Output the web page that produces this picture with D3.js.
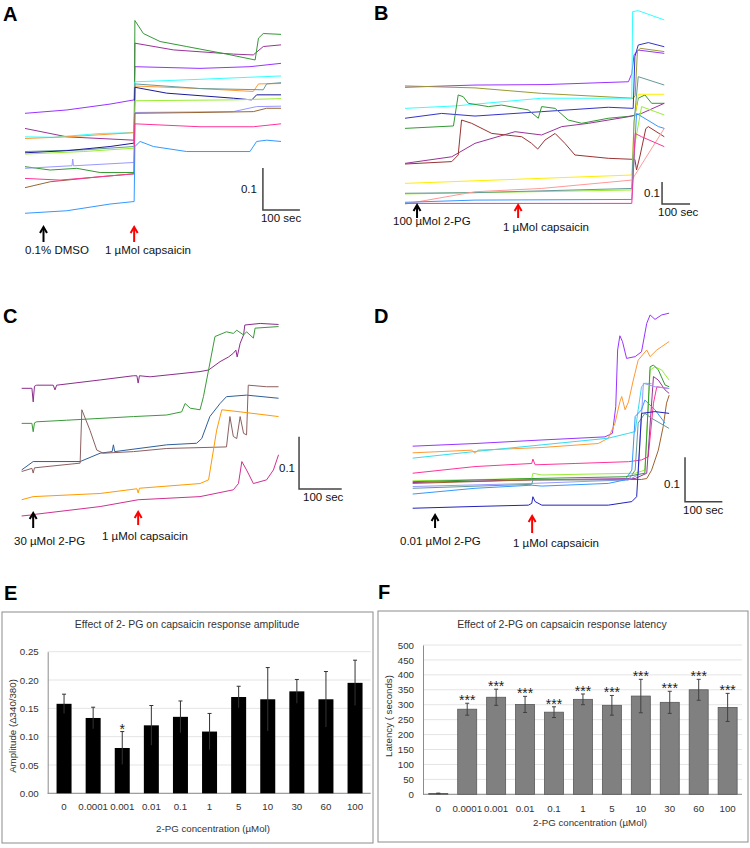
<!DOCTYPE html>
<html><head><meta charset="utf-8">
<script src="https://cdn.jsdelivr.net/npm/d3@7"></script>
<style>
body{margin:0;background:#fff}
svg{display:block}
text{font-family:"Liberation Sans",Arial,sans-serif}
</style>
</head><body>
<svg id="c" width="750" height="848"></svg>
<script>
// ---------------- DATA ----------------
// Bar charts (E, F)
const concLabels = ["0","0.0001","0.001","0.01","0.1","1","5","10","30","60","100"];
const amplitudeMean = [0.158,0.133,0.080,0.120,0.135,0.109,0.170,0.166,0.180,0.166,0.195];
const amplitudeErr  = [0.017,0.019,0.029,0.035,0.028,0.032,0.019,0.056,0.021,0.049,0.040];
const amplitudeSig  = ["","","*","","","","","","","",""];
const amplitudeTicks = [0,0.05,0.10,0.15,0.20,0.25];
const latencyMean = [3,285,325,301,275,318,298,329,308,350,291];
const latencyErr  = [1,20,27,27,18,18,33,56,37,35,47];
const latencySig  = ["","***","***","***","***","***","***","***","***","***","***"];
const latencyTicks = [0,50,100,150,200,250,300,350,400,450,500];

// Calcium traces: [time (s), ratio]
const tracesA = [
 [[0,0.254],[113,0.262],[230,0.276],[295,0.286],[297,0.365],[473,0.361],[608,0.365],[692,0.373]],
 [[0,0.218],[113,0.198],[295,0.190],[297,0.421],[401,0.405],[563,0.395],[617,0.393],[644,0.413],[692,0.417]],
 [[0,0.127],[68,0.119],[140,0.123],[203,0.113],[295,0.113],[297,0.475],[320,0.444],[365,0.425],[437,0.413],[545,0.395],[622,0.381],[631,0.433],[644,0.444],[692,0.442]],
 [[0,0.198],[77,0.197],[203,0.206],[295,0.208],[297,0.329],[473,0.335],[692,0.343]],
 [[0,0.194],[113,0.198],[295,0.208],[297,0.319],[473,0.313],[617,0.306],[631,0.324],[692,0.325]],
 [[0,0.163],[158,0.167],[295,0.175],[297,0.324],[473,0.313],[644,0.310],[653,0.324],[692,0.327]],
 [[0,0.160],[113,0.165],[230,0.175],[295,0.183],[297,0.316],[383,0.302],[563,0.290],[613,0.286],[626,0.298],[692,0.298]],
 [[0,0.157],[158,0.163],[295,0.171],[297,0.284],[563,0.286],[692,0.289]],
 [[0,0.123],[122,0.129],[127,0.129],[129,0.145],[131,0.129],[295,0.137],[297,0.256],[563,0.258],[626,0.270],[692,0.271]],
 [[0,0.077],[68,0.091],[203,0.103],[295,0.110],[297,0.254],[473,0.256],[617,0.258],[653,0.266],[692,0.266]],
 [[0,0.099],[95,0.095],[203,0.103],[295,0.110],[297,0.229],[473,0.222],[617,0.222],[692,0.229]],
 [[0,0.016],[113,0.022],[230,0.038],[295,0.044],[297,0.175],[311,0.187],[347,0.175],[437,0.163],[608,0.163],[626,0.187],[653,0.190],[692,0.187]]
];
const colorsA = ["#9933ff","#993399","#339933","#33ffff","#ff9933","#669999","#1a1a99","#99ee33","#9999ff","#996633","#ff3399","#3399ff"];
const eventsA = [50,295];
const eventLabelsA = ["0.1% DMSO","1 \u00b5Mol capsaicin"];

const tracesB = [
 [[0,0.558],[250,0.568],[500,0.570],[798,0.583],[810,0.62],[818,0.705],[833,0.727],[926,0.712]],
 [[0,0.564],[250,0.555],[488,0.530],[815,0.508],[822,0.52],[830,0.72],[840,0.735],[926,0.72]],
 [[0,0.462],[179,0.473],[488,0.508],[810,0.508],[813,0.902],[833,0.906],[926,0.864]],
 [[0,0.417],[131,0.439],[250,0.427],[488,0.447],[726,0.467],[815,0.462],[821,0.697],[833,0.75],[869,0.761],[926,0.742]],
 [[0,0.371],[173,0.382],[190,0.523],[208,0.515],[226,0.485],[298,0.470],[345,0.477],[440,0.455],[476,0.417],[488,0.470],[536,0.462],[583,0.409],[631,0.394],[726,0.417],[810,0.427],[821,0.43],[833,0.508],[857,0.523],[881,0.485],[926,0.485]],
 [[0,0.212],[167,0.242],[250,0.303],[393,0.356],[488,0.341],[560,0.379],[655,0.394],[798,0.424],[845,0.439],[926,0.485]],
 [[0,0.209],[167,0.220],[190,0.25],[202,0.409],[238,0.394],[310,0.348],[417,0.333],[452,0.303],[474,0.277],[500,0.318],[536,0.348],[571,0.303],[607,0.25],[726,0.235],[821,0.230],[827,0.182],[840,0.25],[860,0.37],[869,0.379],[926,0.333]],
 [[0,0.121],[810,0.159],[818,0.40],[833,0.526],[926,0.526]],
 [[0,0.073],[810,0.091],[821,0.3],[845,0.47],[926,0.432]],
 [[0,0.076],[250,0.079],[810,0.098],[818,0.4],[833,0.606],[926,0.568]],
 [[0,0.027],[250,0.083],[488,0.098],[810,0.136],[926,0.371]],
 [[0,0.035],[250,0.045],[810,0.048],[827,0.439],[905,0.379],[926,0.371]],
 [[0,0.030],[810,0.030],[822,0.348],[845,0.333],[926,0.288]]
];
const colorsB = ["#9933ff","#999933","#33ffff","#3333cc","#339933","#993399","#993333","#ffee00","#99ee33","#669999","#ff9999","#3399ff","#ff3399"];
const eventsB = [43,404];
const eventLabelsB = ["100 \u00b5Mol 2-PG","1 \u00b5Mol capsaicin"];

const tracesC = [
 [[0,0.258],[24,0.258],[27,0.232],[30,0.262],[35,0.264],[74,0.264],[78,0.255],[82,0.264],[184,0.274],[262,0.282],[270,0.282],[273,0.268],[276,0.282],[301,0.280],[418,0.290],[438,0.293],[465,0.309],[485,0.318],[496,0.325],[502,0.331],[505,0.318],[512,0.344],[520,0.360],[523,0.379],[559,0.382],[602,0.380]],
 [[0,0.191],[24,0.191],[27,0.175],[30,0.192],[35,0.194],[105,0.197],[262,0.204],[340,0.207],[375,0.213],[383,0.229],[395,0.220],[418,0.217],[426,0.242],[438,0.293],[453,0.357],[480,0.366],[496,0.363],[504,0.369],[520,0.360],[527,0.366],[543,0.354],[547,0.373],[602,0.376]],
 [[0,0.102],[27,0.118],[137,0.118],[184,0.134],[212,0.137],[215,0.150],[218,0.137],[340,0.150],[410,0.153],[422,0.162],[441,0.204],[465,0.229],[480,0.242],[527,0.245],[602,0.239]],
 [[0,0.099],[24,0.105],[27,0.096],[30,0.106],[137,0.115],[141,0.217],[160,0.178],[176,0.140],[191,0.134],[262,0.137],[340,0.143],[480,0.146],[488,0.204],[496,0.166],[504,0.162],[512,0.204],[520,0.172],[527,0.169],[531,0.264],[574,0.261],[602,0.261]],
 [[0,0.045],[27,0.051],[184,0.057],[270,0.066],[273,0.058],[276,0.067],[418,0.076],[438,0.083],[457,0.178],[469,0.217],[512,0.213],[602,0.204]],
 [[0,0.014],[24,0.016],[27,0.008],[30,0.017],[184,0.032],[273,0.045],[418,0.051],[496,0.064],[508,0.076],[516,0.118],[527,0.102],[543,0.076],[574,0.083],[590,0.102],[602,0.131]]
];
const colorsC = ["#8b2d8b","#3a9a3a","#2e5f99","#8c6060","#ff9a00","#d03090"];
const eventsC = [27,273];
const eventLabelsC = ["30 \u00b5Mol 2-PG","1 \u00b5Mol capsaicin"];

const tracesD = [
 [[0,0.159],[167,0.165],[346,0.173],[515,0.180],[535,0.188],[544,0.248],[549,0.376],[555,0.408],[562,0.395],[573,0.357],[596,0.361],[613,0.372],[627,0.436],[636,0.455],[649,0.445],[667,0.455],[687,0.459]],
 [[0,0.144],[158,0.150],[167,0.143],[175,0.150],[346,0.156],[497,0.165],[524,0.177],[542,0.211],[555,0.259],[560,0.271],[569,0.241],[578,0.259],[591,0.308],[604,0.353],[627,0.376],[636,0.361],[654,0.376],[687,0.395]],
 [[0,0.132],[167,0.147],[346,0.162],[524,0.177],[578,0.188],[596,0.192],[604,0.241],[613,0.293],[622,0.301],[640,0.300]],
 [[0,0.098],[167,0.113],[319,0.120],[322,0.130],[328,0.117],[435,0.120],[578,0.124],[613,0.128],[631,0.135],[645,0.256],[654,0.293],[687,0.289]],
 [[0,0.081],[319,0.086],[322,0.098],[346,0.094],[596,0.098],[622,0.105],[636,0.331],[649,0.338],[667,0.331],[687,0.308]],
 [[0,0.079],[319,0.086],[569,0.090],[622,0.098],[636,0.338],[645,0.342],[658,0.331],[676,0.297],[687,0.293]],
 [[0,0.077],[319,0.083],[596,0.086],[627,0.098],[645,0.316],[658,0.308],[676,0.286],[687,0.278]],
 [[0,0.075],[319,0.083],[613,0.084],[627,0.086],[640,0.105],[658,0.150],[671,0.203],[680,0.256],[687,0.274]],
 [[0,0.068],[319,0.075],[578,0.083],[604,0.094],[618,0.301],[649,0.293],[687,0.289]],
 [[0,0.064],[319,0.073],[322,0.083],[578,0.083],[596,0.105],[604,0.211],[622,0.233],[640,0.222],[687,0.199]],
 [[0,0.051],[167,0.064],[319,0.071],[346,0.069],[524,0.075],[569,0.083],[587,0.105],[596,0.226],[613,0.241],[622,0.263],[649,0.241],[676,0.211]],
 [[0,0.019],[167,0.023],[310,0.026],[319,0.030],[322,0.045],[328,0.034],[346,0.026],[524,0.026],[587,0.034],[600,0.045],[613,0.233],[649,0.237],[687,0.233]]
];
const colorsD = ["#9933ff","#ff9933","#33ddee","#ff3399","#99ee33","#339933","#993399","#a0622d","#9999ff","#669999","#3399ff","#2222bb"];
const eventsD = [60,320];
const eventLabelsD = ["0.01 \u00b5Mol 2-PG","1 \u00b5Mol capsaicin"];

// ---------------- DRAWING ----------------
const svg = d3.select("#c");

function panelLabel(t, x, y){
  svg.append("text").attr("x",x).attr("y",y).attr("font-size",20).attr("font-weight","bold").attr("fill","#000").text(t);
}

function tracePanel(cfg){
  const x = d3.scaleLinear().domain(cfg.xDomain).range(cfg.xRange);
  const y = d3.scaleLinear().domain(cfg.yDomain).range(cfg.yRange);
  const g = svg.append("g");
  const line = d3.line().x(d=>x(d[0])).y(d=>y(d[1]));
  g.selectAll("path.tr").data(cfg.traces).join("path").attr("class","tr")
    .attr("fill","none").attr("stroke",(d,i)=>cfg.colors[i]).attr("stroke-width",1)
    .attr("stroke-linejoin","round").attr("d",line);
  // scale bar
  const bx = x(cfg.bar.t), by = y(cfg.bar.v);
  g.append("path").attr("d",`M${bx},${y(cfg.bar.v+0.1)}V${by}H${x(cfg.bar.t+100)}`)
    .attr("fill","none").attr("stroke","#444").attr("stroke-width",1.5);
  g.append("text").attr("x",bx+cfg.bar.vdx).attr("y",y(cfg.bar.v+0.05)+cfg.bar.vdy).attr("text-anchor","end")
    .attr("font-size",11.5).attr("fill","#111").text("0.1");
  g.append("text").attr("x",bx+cfg.bar.hdx).attr("y",by+12).attr("font-size",11.5).attr("fill","#111").text("100 sec");
  // event arrows
  cfg.events.forEach((t,i)=>{
    const ax = x(t), a = cfg.arrows[i];
    const col = i===0 ? "#000" : "#ff0000";
    g.append("line").attr("x1",ax).attr("x2",ax).attr("y1",a.y1+1).attr("y2",a.y2)
      .attr("stroke",col).attr("stroke-width",2);
    g.append("path").attr("d",`M${ax-3.5},${a.y1+6}L${ax},${a.y1}L${ax+3.5},${a.y1+6}`)
      .attr("fill","none").attr("stroke",col).attr("stroke-width",2);
    g.append("text").attr("x",a.lx).attr("y",a.ly).attr("font-size",11.5).attr("fill","#111").text(cfg.labels[i]);
  });
}

tracePanel({xDomain:[0,700], xRange:[25,284], yDomain:[0,0.5], yRange:[220,10],
  traces:tracesA, colors:colorsA, bar:{t:643,v:0.024,vdx:-6,vdy:4,hdx:-2},
  events:eventsA, labels:eventLabelsA,
  arrows:[{y1:227,y2:242,lx:25,ly:254},{y1:227,y2:242,lx:105,ly:254}]});
tracePanel({xDomain:[0,925], xRange:[405,664], yDomain:[0,1], yRange:[210,-10],
  traces:tracesB, colors:colorsB, bar:{t:918,v:0.027,vdx:-2,vdy:4,hdx:-4},
  events:eventsB, labels:eventLabelsB,
  arrows:[{y1:205,y2:218,lx:393,ly:225},{y1:205,y2:218,lx:503,ly:231}]});
tracePanel({xDomain:[0,600], xRange:[21.67,277.7], yDomain:[0,0.5], yRange:[523.3,261.7],
  traces:tracesC, colors:colorsC, bar:{t:650,v:0.0656,vdx:-4,vdy:9,hdx:4},
  events:eventsC, labels:eventLabelsC,
  arrows:[{y1:513,y2:528,lx:14,ly:545},{y1:512,y2:525,lx:102,ly:540}]});
tracePanel({xDomain:[0,700], xRange:[412.67,674], yDomain:[0,0.5], yRange:[516.67,295],
  traces:tracesD, colors:colorsD, bar:{t:729.5,v:0.0338,vdx:-5,vdy:8,hdx:-2},
  events:eventsD, labels:eventLabelsD,
  arrows:[{y1:515,y2:528,lx:400,ly:545},{y1:516,y2:533,lx:513,ly:547}]});

function barPanel(cfg){
  const g = svg.append("g");
  g.append("rect").attr("x",cfg.box[0]).attr("y",cfg.box[1]).attr("width",cfg.box[2]).attr("height",cfg.box[3])
    .attr("fill","#fff").attr("stroke","#8c8c8c").attr("stroke-width",1);
  const x = d3.scaleBand().domain(concLabels).range(cfg.xRange).padding(0);
  const y = d3.scaleLinear().domain(cfg.yDomain).range(cfg.yRange);
  g.selectAll("line.grid").data(cfg.ticks).join("line").attr("class","grid")
    .attr("x1",cfg.axisX).attr("x2",cfg.gridEnd).attr("y1",d=>y(d)).attr("y2",d=>y(d))
    .attr("stroke","#e4e4e4").attr("stroke-width",1);
  const ya = d3.axisLeft(y).tickValues(cfg.ticks).tickFormat(cfg.fmt).tickSize(0).tickSizeOuter(0).tickPadding(9);
  const yg = g.append("g").attr("transform",`translate(${cfg.axisX},0)`).call(ya);
  yg.select(".domain").attr("stroke","#8c8c8c");
  yg.selectAll("text").attr("font-size",9.7).attr("fill","#333").attr("font-family","Liberation Sans, Arial, sans-serif");
  g.append("line").attr("x1",cfg.axisX).attr("x2",cfg.gridEnd).attr("y1",y(0)).attr("y2",y(0)).attr("stroke","#8c8c8c");
  const xa = d3.axisBottom(x).tickSize(0).tickSizeOuter(0).tickPadding(cfg.xPad);
  const xg = g.append("g").attr("transform",`translate(0,${y(0)})`).call(xa);
  xg.select(".domain").remove();
  xg.selectAll("text").attr("font-size",9.7).attr("fill","#333").attr("font-family","Liberation Sans, Arial, sans-serif");
  const bw = cfg.barW;
  g.selectAll("rect.bar").data(cfg.mean).join("rect").attr("class","bar")
    .attr("x",(d,i)=>x(concLabels[i])+x.bandwidth()/2-bw/2).attr("width",bw)
    .attr("y",d=>y(d)).attr("height",d=>y(0)-y(d))
    .attr("fill",cfg.fill).attr("stroke",cfg.stroke).attr("stroke-width",cfg.strokeW);
  cfg.mean.forEach((m,i)=>{
    const cx = x(concLabels[i])+x.bandwidth()/2, e = cfg.err[i];
    g.append("path").attr("d",`M${cx},${y(m-e)}V${y(m+e)}M${cx-2},${y(m+e)}H${cx+2}`+(cfg.lowCap?`M${cx-2},${y(m-e)}H${cx+2}`:""))
      .attr("fill","none").attr("stroke",cfg.errColor).attr("stroke-width",1);
    if(cfg.sig[i]) g.append("text").attr("x",cx).attr("y",y(m+e)+2).attr("text-anchor","middle")
      .attr("font-size",14).attr("fill","#222").text(cfg.sig[i]);
  });
  g.append("text").attr("x",cfg.titleX).attr("y",628).attr("text-anchor","middle").attr("font-size",10.5).attr("fill","#333").text(cfg.title);
  g.append("text").attr("x",cfg.xTitleX).attr("y",cfg.xTitleY).attr("text-anchor","middle").attr("font-size",9.7).attr("fill","#333").text("2-PG concentration (\u00b5Mol)");
  g.append("text").attr("transform",`translate(${cfg.yTitleX},${cfg.yTitleY}) rotate(-90)`).attr("text-anchor","middle")
    .attr("font-size",9.7).attr("fill","#333").text(cfg.yTitle);
}

barPanel({box:[2,612,371,231], xRange:[49.5,369.6], yDomain:[0,0.25], yRange:[793.3,651.7],
  axisX:47.7, gridEnd:370.7, ticks:amplitudeTicks, fmt:d3.format(".2f"), xPad:9.5,
  mean:amplitudeMean, err:amplitudeErr, sig:amplitudeSig, barW:15, fill:"#000", stroke:"#000", strokeW:0,
  errColor:"#333", lowCap:false,
  title:"Effect of 2- PG on capsaicin response amplitude", titleX:187,
  xTitleX:213, xTitleY:831.5, yTitleX:15.5, yTitleY:726, yTitle:"Amplitude  (\u0394340/380)"});

barPanel({box:[378,611,370,231], xRange:[423.8,742.1], yDomain:[0,500], yRange:[794.3,645],
  axisX:423, gridEnd:742, ticks:latencyTicks, fmt:d3.format("d"), xPad:10.5,
  mean:latencyMean, err:latencyErr, sig:latencySig, barW:19, fill:"#808080", stroke:"#595959", strokeW:0.8,
  errColor:"#404040", lowCap:true,
  title:"Effect of 2-PG on capsaicin response latency", titleX:562,
  xTitleX:590, xTitleY:825.5, yTitleX:392, yTitleY:716, yTitle:"Latency ( seconds)"});

panelLabel("A",3,21);
panelLabel("B",374,20);
panelLabel("C",3,323);
panelLabel("D",374,323);
panelLabel("E",4,600);
panelLabel("F",378,599);
</script>
</body></html>
